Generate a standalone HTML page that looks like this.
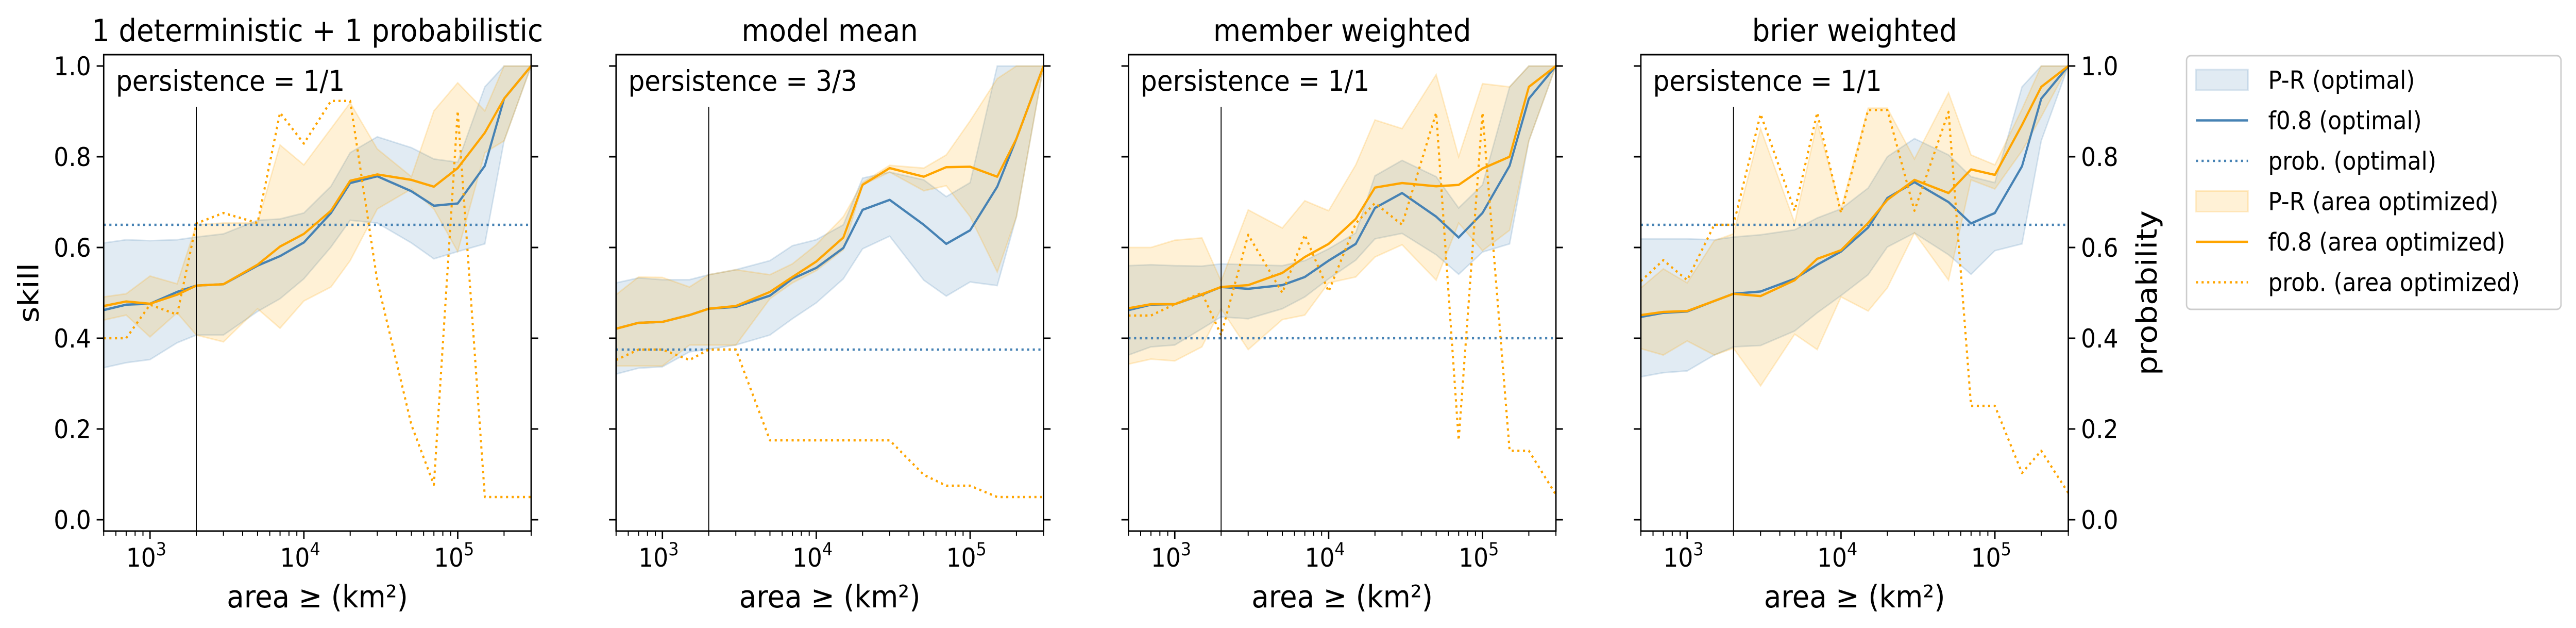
<!DOCTYPE html>
<html><head><meta charset="utf-8">
<style>
html,body{margin:0;padding:0;background:#fff;overflow:hidden;width:100%;height:100%;}
svg{display:block;width:100vw;height:100vh;font-family:"DejaVu Sans","Liberation Sans",sans-serif;}
</style></head>
<body>
<svg id="fig" viewBox="0 0 5490 1218" preserveAspectRatio="none" xmlns="http://www.w3.org/2000/svg"></svg>
<script>
// ---- data ----
const areas = [500,700,1000,1500,2000,3000,5000,7000,10000,15000,20000,30000,50000,70000,100000,150000,200000,300000];
const titles = ["1 deterministic + 1 probabilistic","model mean","member weighted","brier weighted"];
const persistence = ["persistence = 1/1","persistence = 3/3","persistence = 1/1","persistence = 1/1"];
const probOptimal = [0.65,0.375,0.40,0.65];
const yTicks = [0,0.2,0.4,0.6,0.8,1.0];
const yTickLabels = ["0.0","0.2","0.4","0.6","0.8","1.0"];
const xMajor = [3,4,5];

const f08Opt = [
 [0.462,0.474,0.476,0.502,0.516,0.519,0.56,0.581,0.611,0.676,0.742,0.757,0.724,0.692,0.697,0.78,0.928,1.0],
 [0.421,0.434,0.436,0.451,0.465,0.469,0.494,0.531,0.555,0.599,0.683,0.705,0.65,0.608,0.638,0.734,0.84,1.0],
 [0.462,0.474,0.475,0.496,0.513,0.509,0.517,0.535,0.571,0.608,0.687,0.72,0.668,0.622,0.676,0.78,0.928,1.0],
 [0.447,0.456,0.459,0.482,0.498,0.503,0.531,0.562,0.591,0.644,0.709,0.744,0.70,0.653,0.676,0.779,0.928,1.0]];
const f08Area = [
 [0.471,0.481,0.476,0.496,0.516,0.519,0.562,0.602,0.63,0.681,0.747,0.761,0.749,0.734,0.775,0.853,0.928,1.0],
 [0.421,0.434,0.436,0.451,0.465,0.471,0.502,0.535,0.569,0.622,0.738,0.775,0.756,0.777,0.778,0.756,0.84,1.0],
 [0.466,0.475,0.475,0.497,0.513,0.517,0.544,0.579,0.608,0.663,0.732,0.742,0.735,0.738,0.774,0.80,0.954,1.0],
 [0.451,0.458,0.46,0.482,0.498,0.493,0.528,0.575,0.594,0.654,0.705,0.749,0.72,0.772,0.76,0.87,0.954,1.0]];
const probArea = [
 [0.40,0.40,0.474,0.452,0.653,0.676,0.654,0.897,0.829,0.923,0.923,0.526,0.209,0.077,0.901,0.05,0.05,0.05],
 [0.352,0.375,0.375,0.352,0.375,0.375,0.175,0.175,0.175,0.175,0.175,0.175,0.099,0.075,0.075,0.05,0.05,0.05],
 [0.45,0.45,0.475,0.50,0.407,0.628,0.50,0.628,0.503,0.653,0.698,0.65,0.897,0.175,0.897,0.152,0.152,0.055],
 [0.526,0.572,0.528,0.65,0.65,0.894,0.681,0.897,0.676,0.903,0.903,0.681,0.899,0.251,0.251,0.103,0.152,0.059]];
const prOptHi = [
 [0.61,0.617,0.615,0.617,0.623,0.63,0.66,0.663,0.676,0.735,0.809,0.844,0.82,0.795,0.788,0.954,1.0,1.0],
 [0.522,0.533,0.529,0.529,0.54,0.551,0.571,0.604,0.617,0.65,0.753,0.766,0.749,0.712,0.743,1.0,1.0,1.0],
 [0.56,0.562,0.56,0.559,0.564,0.562,0.56,0.571,0.597,0.632,0.758,0.792,0.756,0.687,0.738,0.954,1.0,1.0],
 [0.619,0.619,0.619,0.617,0.623,0.628,0.639,0.665,0.685,0.731,0.80,0.84,0.804,0.756,0.743,0.954,1.0,1.0]];
const prOptLo = [
 [0.335,0.346,0.353,0.39,0.407,0.407,0.459,0.487,0.531,0.601,0.66,0.654,0.61,0.575,0.591,0.608,0.835,1.0],
 [0.321,0.334,0.337,0.37,0.376,0.385,0.407,0.443,0.478,0.531,0.597,0.625,0.528,0.493,0.524,0.516,0.668,1.0],
 [0.363,0.381,0.385,0.421,0.447,0.443,0.465,0.491,0.531,0.572,0.619,0.631,0.584,0.541,0.59,0.608,0.835,1.0],
 [0.315,0.324,0.328,0.363,0.381,0.384,0.416,0.456,0.494,0.54,0.601,0.632,0.584,0.541,0.593,0.608,0.835,1.0]];
const prAreaHi = [
 [0.491,0.498,0.537,0.52,0.65,0.654,0.654,0.826,0.782,0.862,0.919,0.817,0.756,0.901,0.963,0.901,1.0,1.0],
 [0.496,0.535,0.534,0.513,0.54,0.551,0.54,0.564,0.606,0.668,0.743,0.781,0.775,0.804,0.879,0.972,1.0,1.0],
 [0.60,0.60,0.616,0.621,0.526,0.683,0.643,0.703,0.681,0.782,0.881,0.862,0.981,0.80,0.961,0.954,1.0,1.0],
 [0.511,0.553,0.522,0.615,0.63,0.862,0.654,0.875,0.685,0.907,0.907,0.795,0.941,0.804,0.782,0.905,1.0,1.0]];
const prAreaLo = [
 [0.44,0.451,0.403,0.456,0.407,0.392,0.465,0.422,0.482,0.513,0.571,0.685,0.729,0.685,0.591,0.809,0.835,1.0],
 [0.339,0.339,0.339,0.385,0.385,0.385,0.487,0.522,0.549,0.595,0.738,0.766,0.725,0.736,0.668,0.546,0.668,1.0],
 [0.343,0.354,0.35,0.381,0.465,0.375,0.441,0.451,0.522,0.535,0.579,0.606,0.528,0.654,0.593,0.638,0.835,1.0],
 [0.377,0.363,0.394,0.363,0.378,0.295,0.409,0.375,0.491,0.46,0.511,0.632,0.528,0.749,0.729,0.813,0.888,1.0]];

// ---- layout ----
const NS = "http://www.w3.org/2000/svg";
const svg = document.getElementById('fig');
const panelLeft = [221,1313,2405,3497];
const PW = 911, PT = 106, PB = 1030;
const XMIN = Math.log10(500), XMAX = Math.log10(300000);
const YMIN = -0.025, YMAX = 1.025;
const BLUE = "#4682b4", ORANGE = "#ffa500";

function mk(tag, attrs, parent){
  const e = document.createElementNS(NS, tag);
  for (const k in attrs) e.setAttribute(k, attrs[k]);
  (parent||svg).appendChild(e);
  return e;
}
function txt(s, attrs, parent){ const t = mk('text', attrs, parent); t.textContent = s; return t; }

titles.forEach((title, p) => {
  const L = panelLeft[p], R = L + PW;
  const sx = v => L + (Math.log10(v) - XMIN) / (XMAX - XMIN) * PW;
  const sy = v => PB - (v - YMIN) / (YMAX - YMIN) * (PB - PT);
  const g = mk('g', {});
  
  
  const clipId = 'clip' + p;
  const cp = mk('clipPath', {id: clipId}, g);
  mk('rect', {x: L, y: PT, width: PW, height: PB-PT}, cp);
  const plot = mk('g', {'clip-path': 'url(#' + clipId + ')'}, g);

  function band(hi, lo, color, name){
    let d = '';
    areas.forEach((a,i)=>{ d += (i?'L':'M') + sx(a).toFixed(1) + ',' + sy(hi[i]).toFixed(1); });
    for (let i = areas.length-1; i >= 0; i--) d += 'L' + sx(areas[i]).toFixed(1) + ',' + sy(lo[i]).toFixed(1);
    d += 'Z';
    const e = mk('path', {d: d, fill: color, 'fill-opacity': 0.16, stroke: color, 'stroke-opacity': 0.2, 'stroke-width': 3}, plot);
    
    
  }
  function line(vals, color, dotted, name){
    const pts = areas.map((a,i)=> sx(a).toFixed(1) + ',' + sy(vals[i]).toFixed(1)).join(' ');
    const at = {points: pts, fill: 'none', stroke: color, 'stroke-width': 4.5, 'stroke-linejoin': 'round'};
    if (dotted) at['stroke-dasharray'] = '4.5,7.5';
    const e = mk('polyline', at, plot);
    
    
  }
  band(prOptHi[p], prOptLo[p], BLUE, 'pr-band-optimal');
  band(prAreaHi[p], prAreaLo[p], ORANGE, 'pr-band-area-optimized');
  const hl = mk('line', {x1: L, x2: R, y1: sy(probOptimal[p]), y2: sy(probOptimal[p]), stroke: BLUE, 'stroke-width': 4.5, 'stroke-dasharray': '4.5,7.5'}, plot);
  
  
  line(f08Opt[p], BLUE, false, 'f08-optimal-line');
  line(f08Area[p], ORANGE, false, 'f08-area-optimized-line');
  line(probArea[p], ORANGE, true, 'prob-area-optimized-line');
  const vl = mk('line', {x1: sx(2000), x2: sx(2000), y1: sy(0.91), y2: PB, stroke: '#000', 'stroke-width': 2}, g);
  
  

  const sp = mk('rect', {x: L, y: PT, width: PW, height: PB-PT, fill: 'none', stroke: '#000', 'stroke-width': 3}, g);
  
  

  yTicks.forEach((v,i)=>{
    const y = sy(v);
    mk('line', {x1: L-15, x2: L, y1: y, y2: y, stroke: '#000', 'stroke-width': 3}, g);
    mk('line', {x1: R, x2: R+15, y1: y, y2: y, stroke: '#000', 'stroke-width': 3}, g);
    if (p === 0) {
      const t = txt(yTickLabels[i], {x: L-27, y: y+18, 'font-size': 50, 'text-anchor': 'end'}, g);
      
      
    }
    if (p === 3) {
      const t = txt(yTickLabels[i], {x: R+27, y: y+18, 'font-size': 50, 'text-anchor': 'start'}, g);
      
      
    }
  });
  for (let e = 2; e <= 5; e++) for (let m = 1; m <= 9; m++) {
    const v = m * Math.pow(10, e);
    if (v < 500 || v > 300000) continue;
    const x = sx(v);
    mk('line', {x1: x, x2: x, y1: PB, y2: PB + (m === 1 ? 15 : 9), stroke: '#000', 'stroke-width': m === 1 ? 3 : 2.2}, g);
  }
  xMajor.forEach(e=>{
    const t = txt('10', {x: sx(Math.pow(10,e)) - 8, y: 1099, 'font-size': 50, 'text-anchor': 'middle'}, g);
    const s = mk('tspan', {dy: -22, 'font-size': 35}, t); s.textContent = String(e);
    
    
  });
  const xl = txt('area ≥ (km²)', {x: L + PW/2, y: 1178, 'font-size': 60, 'text-anchor': 'middle'}, g);
  
  
  const tt = txt(title, {x: L + PW/2, y: 80, 'font-size': 60, 'text-anchor': 'middle'}, g);
  
  
  const an = txt(persistence[p], {x: L + 26, y: 176, 'font-size': 55}, g);
  
  
});

const yl = txt('skill', {x: 0, y: 0, 'font-size': 60, 'text-anchor': 'middle', transform: 'translate(82,568) rotate(-90)'});


const yr = txt('probability', {x: 0, y: 0, 'font-size': 60, 'text-anchor': 'middle', transform: 'translate(4596,568) rotate(-90)'});



const legendLabels = ["P-R (optimal)","f0.8 (optimal)","prob. (optimal)","P-R (area optimized)","f0.8 (area optimized)","prob. (area optimized)"];
const legendKinds = ["patch","line","dot","patch","line","dot"];
const legendColors = [BLUE,BLUE,BLUE,ORANGE,ORANGE,ORANGE];
const lg = mk('g', {});


mk('rect', {x: 4660, y: 108, width: 798, height: 492, rx: 9, fill: '#fff', stroke: '#cccccc', 'stroke-width': 3}, lg);
legendLabels.forEach((lab,i)=>{
  const cy = 155 + i*78.5;
  const eg = mk('g', {}, lg);
  
  
  const c = legendColors[i];
  if (legendKinds[i] === 'patch') mk('rect', {x: 4680, y: cy-20, width: 111, height: 40, fill: c, 'fill-opacity': 0.16, stroke: c, 'stroke-opacity': 0.2, 'stroke-width': 3}, eg);
  else if (legendKinds[i] === 'line') mk('line', {x1: 4680, x2: 4791, y1: cy, y2: cy, stroke: c, 'stroke-width': 4.5}, eg);
  else mk('line', {x1: 4680, x2: 4791, y1: cy, y2: cy, stroke: c, 'stroke-width': 4.5, 'stroke-dasharray': '4.5,7.5'}, eg);
  txt(lab, {x: 4834, y: cy + 17, 'font-size': 48}, eg);
});
</script>
</body></html>
